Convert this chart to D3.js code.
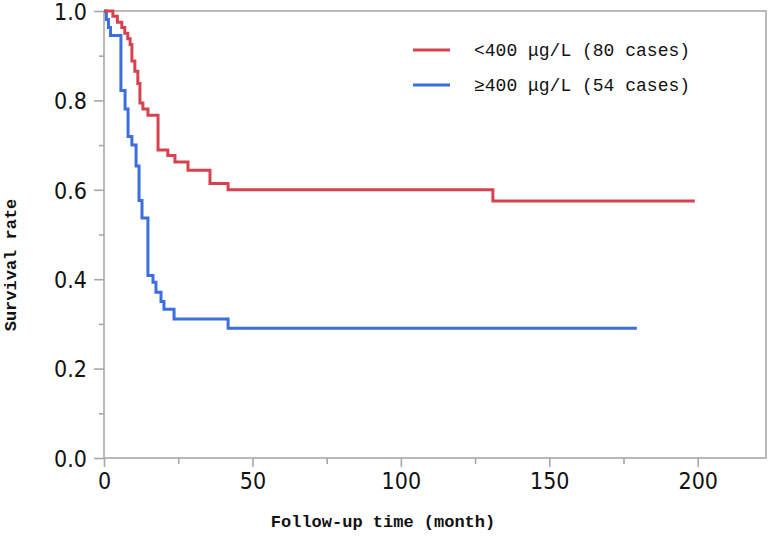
<!DOCTYPE html>
<html>
<head>
<meta charset="utf-8">
<script src="https://cdn.jsdelivr.net/npm/d3@7"></script>
<style>
  html, body { margin: 0; padding: 0; background: #fff; }
  svg { display: block; }
</style>
</head>
<body>
<svg id="chart" width="774" height="536"></svg>
<script>
// ---- data ----
const seriesNames = ["<400 μg/L (80 cases)", "≥400 μg/L (54 cases)"];
const lowTimes = [0, 3.0, 4.5, 6.0, 7.0, 8.0, 8.8, 9.4, 10.4, 11.4, 12.1, 13.1, 14.8, 18.2, 21.5, 23.9, 28.3, 35.7, 41.8, 131, 199];
const lowSurv  = [1.0, 0.988, 0.975, 0.963, 0.950, 0.938, 0.925, 0.888, 0.865, 0.838, 0.794, 0.781, 0.767, 0.689, 0.677, 0.662, 0.644, 0.614, 0.600, 0.575, 0.575];
const highTimes = [0, 0.8, 1.5, 2.2, 5.7, 7.1, 8.1, 9.4, 10.8, 11.8, 12.8, 14.8, 16.5, 17.5, 19.2, 20.2, 23.6, 41.8, 179.5];
const highSurv  = [1.0, 0.981, 0.963, 0.945, 0.822, 0.781, 0.719, 0.700, 0.653, 0.576, 0.537, 0.408, 0.393, 0.371, 0.350, 0.333, 0.311, 0.290, 0.290];
const xMajorTicks = [0, 50, 100, 150, 200];
const xMinorTicks = [25, 75, 125, 175];
const yMajorTicks = [0, 0.2, 0.4, 0.6, 0.8, 1.0];
const yMinorTicks = [0.1, 0.3, 0.5, 0.7, 0.9];
const xTitle = "Follow-up time (month)";
const yTitle = "Survival rate";
const colors = ["#d6424f", "#3b6fe0"];

// ---- layout ----
const svg = d3.select("#chart");
const L = 104, R = 766, T = 11, B = 458;
const x = d3.scaleLinear().domain([0, 223]).range([L, R]);
const y = d3.scaleLinear().domain([0, 1]).range([B, T]);
const axisColor = "#a8a8a8";
const tickFont = "'DejaVu Sans', 'Liberation Sans', sans-serif";
const monoFont = "'Liberation Mono', 'DejaVu Sans Mono', monospace";

// frame
svg.append("rect")
  .attr("x", L).attr("y", T).attr("width", R - L).attr("height", B - T)
  .attr("fill", "none").attr("stroke", axisColor).attr("stroke-width", 1.6);

function styleAxis(g) {
  g.select(".domain").remove();
  g.selectAll(".tick line").attr("stroke", axisColor).attr("stroke-width", 1.6);
  g.selectAll(".tick text")
    .attr("fill", "#111")
    .style("font-family", tickFont)
    .style("font-stretch", "condensed")
    .style("font-size", "23px");
}

// x axis
const gx = svg.append("g").attr("transform", `translate(0,${B})`)
  .call(d3.axisBottom(x).tickValues(xMajorTicks).tickSize(9).tickPadding(6).tickFormat(d3.format("d")));
styleAxis(gx);
const gxm = svg.append("g").attr("transform", `translate(0,${B})`)
  .call(d3.axisBottom(x).tickValues(xMinorTicks).tickSize(6).tickFormat(""));
styleAxis(gxm);

// y axis
const gy = svg.append("g").attr("transform", `translate(${L},0)`)
  .call(d3.axisLeft(y).tickValues(yMajorTicks).tickSize(10).tickPadding(7).tickFormat(d3.format(".1f")));
styleAxis(gy);
gy.selectAll(".tick text").attr("dy", "0.36em");
const gym = svg.append("g").attr("transform", `translate(${L},0)`)
  .call(d3.axisLeft(y).tickValues(yMinorTicks).tickSize(5).tickFormat(""));
styleAxis(gym);

// axis titles
svg.append("text")
  .attr("x", 383).attr("y", 527)
  .attr("text-anchor", "middle")
  .style("font-family", monoFont).style("font-size", "17px").style("font-weight", "bold")
  .attr("fill", "#111")
  .text(xTitle);
svg.append("text")
  .attr("transform", "translate(16,265) rotate(-90)")
  .attr("text-anchor", "middle")
  .style("font-family", monoFont).style("font-size", "17px").style("font-weight", "bold")
  .attr("fill", "#111")
  .text(yTitle);

// curves
const line = d3.line().x(d => x(d[0])).y(d => y(d[1])).curve(d3.curveStepAfter);
const series = [
  d3.zip(lowTimes, lowSurv),
  d3.zip(highTimes, highSurv)
];
[1, 0].forEach(i => {
  svg.append("path")
    .datum(series[i])
    .attr("fill", "none")
    .attr("stroke", colors[i])
    .attr("stroke-width", 3)
    .attr("stroke-linejoin", "miter")
    .attr("d", line);
});

// legend
const legY = [50, 85];
seriesNames.forEach((name, i) => {
  svg.append("line")
    .attr("x1", 413).attr("x2", 450)
    .attr("y1", legY[i]).attr("y2", legY[i])
    .attr("stroke", colors[i]).attr("stroke-width", 3);
  svg.append("text")
    .attr("x", 474).attr("y", legY[i])
    .attr("dy", "0.35em")
    .style("font-family", monoFont).style("font-size", "18px")
    .attr("fill", "#111")
    .text(name);
});
</script>
</body>
</html>
